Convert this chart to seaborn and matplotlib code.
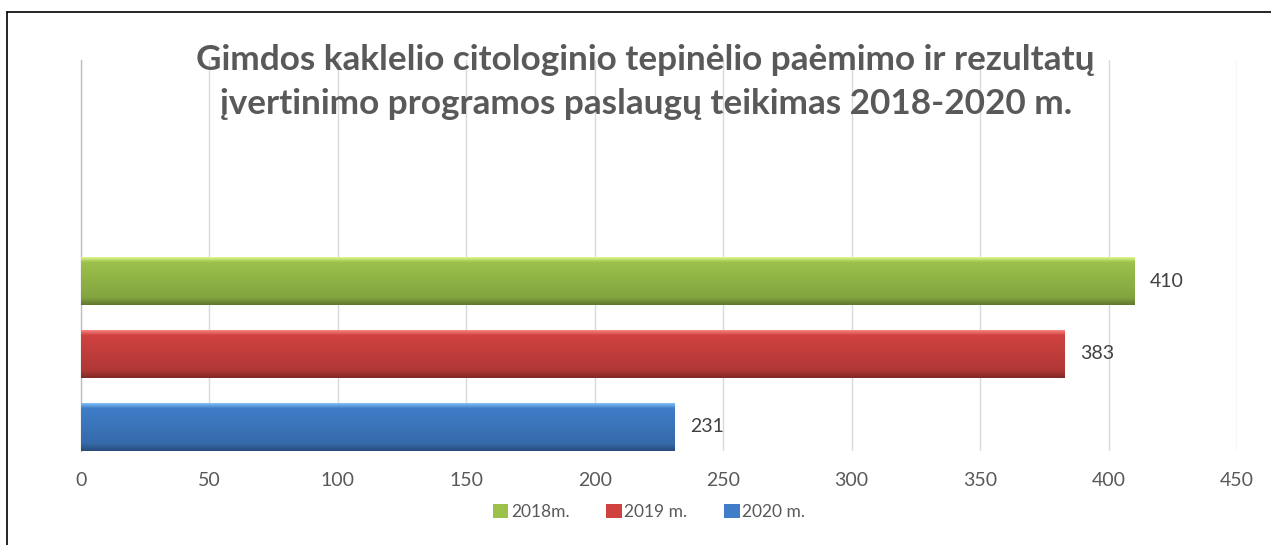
import numpy as np
import pandas as pd
import matplotlib
matplotlib.use("Agg")
import matplotlib.pyplot as plt
from matplotlib.lines import Line2D
from matplotlib.patches import Patch
import seaborn as sns


years = ["2018m.", "2019 m.", "2020 m."]
values = [410, 383, 231]
colors = ["#9BC14B", "#CF4240", "#3F7DC8"]
x_ticks = [0, 50, 100, 150, 200, 250, 300, 350, 400, 450]
title = "Gimdos kaklelio citologinio tepinėlio paėmimo ir rezultatų\nįvertinimo programos paslaugų teikimas 2018-2020 m."

sns.set_style("white")
plt.rcParams["font.family"] = ["Lato", "DejaVu Sans"]

df = pd.DataFrame({"year": years, "value": values})

fig = plt.figure(figsize=(12.71, 5.45), dpi=100)
ax = fig.add_axes([81 / 1271, 1 - 451 / 545, 1156 / 1271, 391 / 545])

sns.barplot(data=df, y="year", x="value", hue="year", palette=colors,
            orient="h", width=0.66, legend=False, ax=ax, saturation=1,
            edgecolor="none", zorder=2)

# bevel-ish shading on each bar
grad = np.linspace(0, 1, 64).reshape(-1, 1)
for patch, c in zip(ax.patches, colors):
    x0, y0 = patch.get_x(), patch.get_y()
    w, h = patch.get_width(), patch.get_height()
    base = np.array(matplotlib.colors.to_rgb(c))
    light = np.clip(base + 0.30, 0, 1)
    dark = base * 0.62
    t = grad
    rgb = np.where(t < 0.12, light + (base - light) * (t / 0.12),
                   np.where(t < 0.85, base + (base * 0.85 - base) * ((t - 0.12) / 0.73),
                            base * 0.85 + (dark - base * 0.85) * ((t - 0.85) / 0.15)))
    img = rgb.reshape(64, 1, 3)
    im = ax.imshow(img, extent=(x0, x0 + w, y0 + h, y0), aspect="auto",
                   interpolation="bilinear", zorder=3)
    im.set_clip_path(patch)
    ax.text(x0 + w + 6, y0 + h / 2, f"{int(w)}", va="center", ha="left",
            fontsize=14, color="#404040")

ax.set_xlim(0, 450)
ax.set_ylim(2.33, -3.03)
ax.set_xticks(x_ticks)
ax.set_xticklabels([str(t) for t in x_ticks], fontsize=14, color="#595959")
ax.tick_params(axis="x", length=0, pad=15)
ax.set_yticks([])
ax.set_xlabel("")
ax.set_ylabel("")
ax.grid(axis="x", color="#D9D9D9", linewidth=1, zorder=0)
ax.set_axisbelow(True)
for s in ["top", "right", "bottom"]:
    ax.spines[s].set_visible(False)
ax.spines["left"].set_color("#BFBFBF")
ax.spines["left"].set_linewidth(1)

fig.text(0.508, 1 - 82 / 545, title, ha="center", va="center", fontsize=25.3,
         fontweight="bold", color="#595959", linespacing=1.48)

handles = [Patch(facecolor=c, edgecolor="none") for c in colors]
fig.legend(handles, years, loc="center", bbox_to_anchor=(649 / 1271, 1 - 512 / 545),
           ncol=3, frameon=False, fontsize=12.5, handlelength=0.9, handleheight=0.9,
           handletextpad=0.15, columnspacing=2.1, labelcolor="#595959")

# chart frame (only left and top visible in reference)
fig.add_artist(Line2D([7 / 1271, 7 / 1271], [0, 1 - 12 / 545], color="black", lw=1.2))
fig.add_artist(Line2D([7 / 1271, 1], [1 - 12 / 545, 1 - 12 / 545], color="black", lw=1.2))

fig.savefig("out.png", dpi=100)
